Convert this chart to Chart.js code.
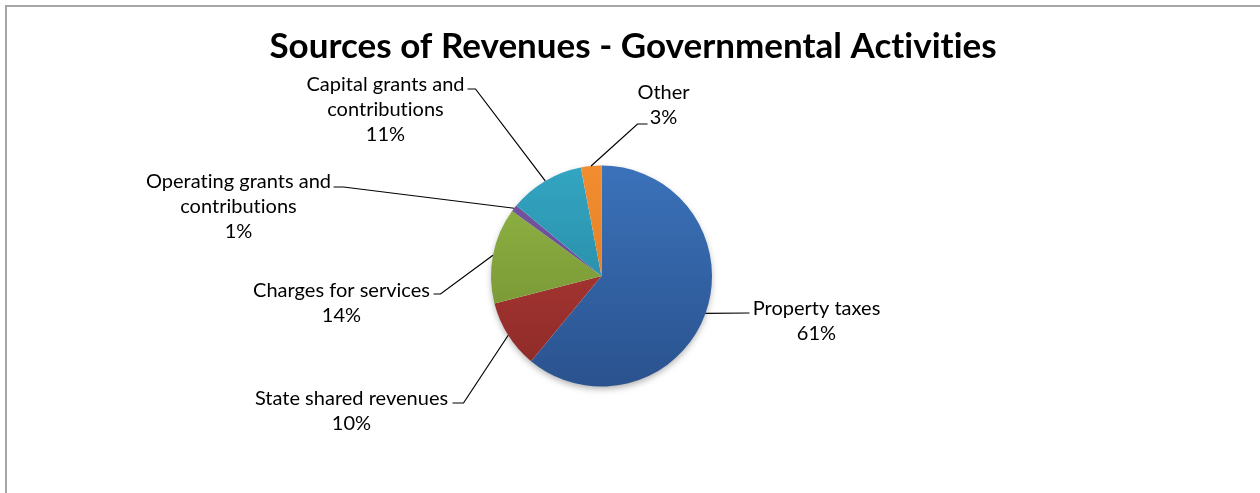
<!DOCTYPE html>
<html>
<head>
<meta charset="utf-8">
<script src="https://cdn.jsdelivr.net/npm/chart.js@4/dist/chart.umd.min.js"></script>
<style>
  html, body { margin: 0; padding: 0; background: #fff; overflow: hidden; }
  #frame { position: absolute; left: 5px; top: 5px; width: 1400px; height: 700px; border: 2px solid #a5a5a5; }
  #wrap { position: absolute; left: 0; top: 0; width: 1260px; height: 493px; }
</style>
</head>
<body>
<div id="frame"></div>
<div id="wrap"><canvas id="pie-chart" width="1260" height="493"></canvas></div>
<script>
// data
var categories = ["Property taxes", "State shared revenues", "Charges for services",
                  ["Operating grants and", "contributions"], ["Capital grants and", "contributions"], "Other"];
var shares = [61, 10, 14, 1, 11, 3];
var titleText = "Sources of Revenues - Governmental Activities";

// gradient colours top -> bottom, like the excel shading
var topColors    = ["#3b72ba", "#b83c38", "#93b745", "#7658a3", "#33a5c2", "#f28d30"];
var bottomColors = ["#2a528e", "#8a2a27", "#6c8a2f", "#5c4284", "#237f98", "#d9761f"];

// where each label sits, relative to the pie centre (text x centre, first baseline, hook point, elbow)
var labelSpots = [
  { tx: 215, ty: 39, hx: 148, hy: 37, elbow: 0 },
  { tx: -250, ty: 129, hx: -149, hy: 127, elbow: 11 },
  { tx: -260, ty: 21, hx: -168, hy: 18, elbow: 7 },
  { tx: -363, ty: -88, hx: -268, hy: -89, elbow: 10 },
  { tx: -216, ty: -185, hx: -134, hy: -187, elbow: 8 },
  { tx: 62, ty: -177, hx: 46, hy: -152, elbow: -10 }
];

function shade(c) {
  var i = c.dataIndex;
  var area = c.chart.chartArea;
  if (!area) return topColors[i];
  var g = c.chart.ctx.createLinearGradient(0, area.top, 0, area.bottom);
  g.addColorStop(0, topColors[i]);
  g.addColorStop(1, bottomColors[i]);
  return g;
}

var total = shares.reduce(function(a, b) { return a + b; }, 0);

var pieExtras = {
  id: 'pieExtras',
  beforeDatasetsDraw: function(chart) {
    var arc = chart.getDatasetMeta(0).data[0];
    if (!arc) return;
    var ctx = chart.ctx;
    ctx.save();
    ctx.shadowColor = 'rgba(0,0,0,0.35)';
    ctx.shadowBlur = 7;
    ctx.shadowOffsetY = 3;
    ctx.fillStyle = '#ffffff';
    ctx.beginPath();
    ctx.arc(arc.x, arc.y, arc.outerRadius - 1, 0, Math.PI * 2);
    ctx.fill();
    ctx.restore();
  },
  afterDraw: function(chart) {
    var ctx = chart.ctx;
    var meta = chart.getDatasetMeta(0);
    ctx.save();
    if ('letterSpacing' in ctx) ctx.letterSpacing = '0.01px'; // no ti ligatures
    // title
    ctx.fillStyle = '#000';
    ctx.textAlign = 'center';
    ctx.textBaseline = 'alphabetic';
    ctx.font = 'bold 35px Lato';
    ctx.fillText(titleText, 633, 58);

    ctx.font = '20px Lato';
    meta.data.forEach(function(arc, i) {
      var spot = labelSpots[i];
      var cx = arc.x, cy = arc.y;
      var mid = (arc.startAngle + arc.endAngle) / 2;
      var px = cx + Math.cos(mid) * arc.outerRadius;
      var py = cy + Math.sin(mid) * arc.outerRadius;
      var hx = cx + spot.hx, hy = cy + spot.hy;
      ctx.strokeStyle = '#000';
      ctx.lineWidth = 1.2;
      ctx.beginPath();
      ctx.moveTo(px, py);
      ctx.lineTo(hx + spot.elbow, hy);
      ctx.lineTo(hx, hy);
      ctx.stroke();

      var name = categories[i];
      var lines = Array.isArray(name) ? name.slice() : [name];
      lines.push(Math.round(shares[i] / total * 100) + '%');
      lines.forEach(function(t, k) {
        ctx.fillText(t, cx + spot.tx, cy + spot.ty + k * 25);
      });
    });
    ctx.restore();
  }
};

new Chart(document.getElementById("pie-chart"), {
  type: 'pie',
  data: {
    labels: categories,
    datasets: [{
      data: shares,
      backgroundColor: shade,
      borderWidth: 0
    }]
  },
  options: {
    responsive: false,
    animation: false,
    layout: { padding: { top: 165, bottom: 106, left: 491, right: 548 } },
    plugins: {
      legend: { display: false },
      title: { display: false },
      tooltip: { enabled: false }
    }
  },
  plugins: [pieExtras]
});
</script>
</body>
</html>
